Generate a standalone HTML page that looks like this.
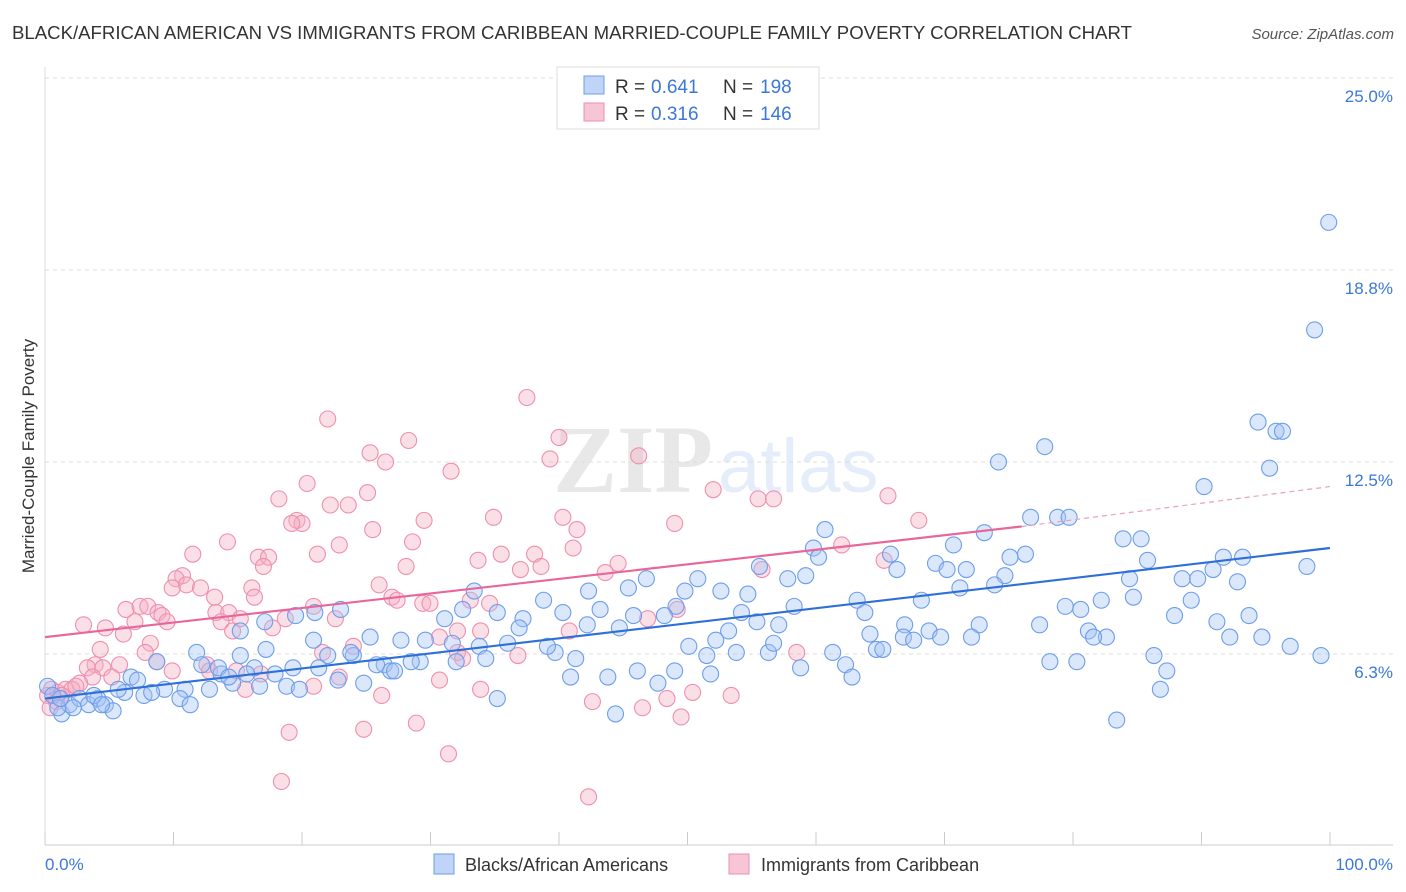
<!DOCTYPE html>
<html><head><meta charset="utf-8"><style>
body{margin:0;background:#fff;font-family:"Liberation Sans",sans-serif;}
svg{display:block}
</style></head><body>
<svg id="chart" width="1406" height="892" viewBox="0 0 1406 892" xmlns="http://www.w3.org/2000/svg">
<text x="12" y="39" font-size="18.6" fill="#333">BLACK/AFRICAN AMERICAN VS IMMIGRANTS FROM CARIBBEAN MARRIED-COUPLE FAMILY POVERTY CORRELATION CHART</text>
<text x="1394" y="39" font-size="15" fill="#555" font-style="italic" text-anchor="end">Source: ZipAtlas.com</text>
<g opacity="0.13">
<text x="553" y="492" font-family="Liberation Serif" font-size="96" fill="#555" font-weight="bold">ZIP</text>
<text x="718" y="492" font-size="76" fill="#3b78d8">atlas</text>
</g>
<g id="grid"></g>
<g id="axes"></g>
<g id="pts"></g>
<g id="trends"></g>
<text transform="translate(34,456) rotate(-90)" font-size="17" fill="#333" text-anchor="middle">Married-Couple Family Poverty</text>
<text x="45" y="870" font-size="17" fill="#3b78d8">0.0%</text>
<text x="1393" y="870" font-size="17" fill="#3b78d8" text-anchor="end">100.0%</text>
<g>
<rect x="557" y="67" width="262" height="62" fill="#fff" stroke="#ddd"/>
<rect x="584" y="76" width="20" height="18" fill="#a4c2f4" fill-opacity="0.7" stroke="#6d9eeb"/>
<rect x="584" y="103" width="20" height="18" fill="#f4aec4" fill-opacity="0.7" stroke="#ee8fb0"/>
<text x="615" y="93" font-size="19" fill="#333">R =</text>
<text x="651" y="93" font-size="19" fill="#3b78d8">0.641</text>
<text x="723" y="93" font-size="19" fill="#333">N =</text>
<text x="760" y="93" font-size="19" fill="#3b78d8">198</text>
<text x="615" y="120" font-size="19" fill="#333">R =</text>
<text x="651" y="120" font-size="19" fill="#3b78d8">0.316</text>
<text x="723" y="120" font-size="19" fill="#333">N =</text>
<text x="760" y="120" font-size="19" fill="#3b78d8">146</text>
</g>
<g>
<rect x="434" y="854" width="20" height="20" fill="#a4c2f4" fill-opacity="0.7" stroke="#6d9eeb"/>
<text x="465" y="871" font-size="18" fill="#333">Blacks/African Americans</text>
<rect x="729" y="854" width="20" height="20" fill="#f4aec4" fill-opacity="0.7" stroke="#ee8fb0"/>
<text x="761" y="871" font-size="18" fill="#333">Immigrants from Caribbean</text>
</g>
</svg>
<script>
const yTicks=[6.25,12.5,18.75,25.0];
const yTickLabels=["6.3%","12.5%","18.8%","25.0%"];
const xTicks=[0,10,20,30,40,50,60,70,80,90,100];
const blueTrend=[[0,4.8],[100,9.7]];
const pinkTrend=[[0,6.8],[76,10.4],[100,11.7]];
const blueData=[[99.9,20.3],[98.8,16.8],[94.4,13.8],[95.8,13.5],[96.3,13.5],[95.3,12.3],[77.8,13.0],[74.2,12.5],[90.2,11.7],[76.7,10.7],[78.8,10.7],[79.7,10.7],[60.7,10.3],[83.9,10.0],[85.3,10.0],[73.1,10.2],[70.7,9.8],[59.8,9.7],[85.8,9.3],[91.7,9.4],[93.2,9.4],[75.1,9.4],[76.3,9.5],[65.8,9.5],[60.2,9.4],[55.6,9.1],[69.3,9.2],[66.3,9.0],[70.2,9.0],[71.7,9.0],[98.2,9.1],[90.9,9.0],[84.4,8.7],[88.5,8.7],[89.7,8.7],[74.7,8.8],[73.9,8.5],[92.8,8.6],[57.8,8.7],[59.2,8.8],[50.8,8.7],[46.8,8.7],[45.4,8.4],[52.6,8.3],[54.7,8.2],[49.8,8.3],[42.3,8.3],[33.4,8.3],[71.2,8.4],[89.2,8.0],[84.7,8.1],[82.2,8.0],[63.2,8.0],[68.2,8.0],[79.4,7.8],[80.6,7.7],[58.3,7.8],[38.8,8.0],[43.2,7.7],[49.1,7.8],[32.5,7.7],[35.2,7.6],[40.3,7.6],[87.9,7.5],[93.7,7.5],[91.2,7.3],[63.8,7.6],[54.2,7.6],[45.8,7.5],[48.2,7.5],[31.1,7.4],[37.2,7.4],[36.9,7.1],[42.2,7.2],[21.0,7.6],[23.0,7.7],[77.4,7.2],[72.7,7.2],[66.9,7.2],[68.8,7.0],[57.1,7.2],[55.4,7.3],[53.2,7.0],[44.7,7.1],[81.2,7.0],[82.6,6.8],[81.6,6.8],[72.1,6.8],[69.7,6.8],[66.8,6.8],[64.2,6.9],[67.6,6.7],[94.7,6.8],[92.2,6.8],[96.9,6.5],[52.2,6.7],[50.1,6.5],[51.5,6.2],[53.8,6.3],[56.3,6.3],[56.7,6.6],[61.3,6.3],[64.7,6.4],[65.2,6.4],[78.2,6.0],[80.3,6.0],[86.3,6.2],[87.3,5.7],[86.8,5.1],[83.4,4.1],[99.3,6.2],[58.8,5.8],[62.3,5.9],[62.8,5.5],[51.8,5.6],[49.0,5.7],[46.1,5.7],[47.7,5.3],[43.8,5.5],[40.9,5.5],[39.7,6.3],[41.3,6.1],[39.1,6.5],[36.0,6.6],[33.8,6.5],[31.7,6.6],[29.6,6.7],[27.7,6.7],[25.3,6.8],[20.9,6.7],[34.3,6.1],[32.0,6.0],[29.2,6.0],[28.5,6.0],[26.4,5.9],[26.9,5.7],[25.8,5.9],[27.2,5.7],[24.0,6.2],[22.0,6.2],[23.8,6.3],[21.3,5.8],[19.3,5.8],[17.2,6.4],[16.3,5.8],[15.2,6.2],[11.8,6.3],[13.7,5.6],[15.7,5.6],[17.9,5.6],[22.8,5.4],[24.8,5.3],[18.8,5.2],[19.8,5.1],[16.7,5.2],[14.6,5.3],[12.8,5.1],[10.9,5.1],[9.3,5.1],[7.7,4.9],[6.2,5.0],[5.7,5.1],[8.3,5.0],[10.5,4.8],[11.3,4.6],[6.7,5.5],[7.2,5.4],[12.2,5.9],[8.7,6.0],[13.5,5.8],[14.3,5.5],[19.5,7.5],[15.2,7.0],[17.1,7.3],[35.2,4.8],[44.4,4.3],[0.2,5.2],[0.6,4.9],[1.3,4.3],[1.9,4.6],[2.7,4.8],[3.4,4.6],[4.1,4.8],[4.7,4.6],[5.3,4.4],[2.2,4.5],[1.0,4.5],[3.8,4.9],[1.2,4.8],[4.4,4.6]];
const pinkData=[[37.5,14.6],[40.0,13.3],[46.2,12.7],[39.3,12.6],[22.0,13.9],[28.3,13.2],[25.3,12.8],[26.5,12.5],[31.6,12.2],[52.0,11.6],[55.5,11.3],[56.7,11.3],[65.6,11.4],[18.2,11.3],[20.4,11.8],[25.1,11.5],[22.2,11.1],[23.6,11.1],[19.6,10.6],[20.0,10.5],[19.2,10.5],[29.5,10.6],[34.9,10.7],[40.3,10.7],[41.4,10.3],[49.0,10.5],[68.0,10.6],[25.5,10.3],[14.2,9.9],[22.9,9.8],[28.6,9.9],[62.0,9.8],[11.5,9.5],[21.2,9.5],[16.6,9.4],[17.4,9.4],[33.7,9.3],[35.5,9.5],[38.1,9.5],[41.1,9.7],[17.0,9.1],[28.1,9.1],[37.0,9.0],[38.6,9.1],[44.6,9.2],[43.6,8.9],[55.8,9.0],[65.3,9.3],[10.7,8.8],[10.2,8.7],[11.0,8.5],[12.1,8.4],[9.9,8.4],[16.1,8.4],[26.0,8.5],[13.2,8.1],[16.3,8.1],[27.0,8.1],[27.4,8.0],[29.4,7.9],[29.96,7.9],[33.1,8.0],[34.6,7.9],[6.3,7.7],[7.4,7.8],[8.0,7.8],[8.8,7.6],[9.1,7.5],[13.3,7.6],[14.3,7.6],[20.9,7.8],[22.6,7.4],[7.0,7.3],[9.5,7.3],[13.7,7.3],[15.2,7.4],[18.7,7.4],[17.7,7.1],[3.0,7.2],[4.7,7.1],[6.1,6.9],[14.6,7.0],[32.1,7.0],[33.9,7.0],[30.7,6.8],[40.8,7.0],[49.2,7.7],[46.9,7.4],[8.2,6.6],[4.3,6.4],[7.8,6.3],[24.0,6.5],[21.6,6.3],[36.8,6.2],[32.1,6.3],[32.5,6.1],[58.5,6.3],[8.7,6.0],[3.9,5.9],[3.3,5.8],[4.5,5.8],[5.8,5.9],[9.9,5.7],[12.6,5.9],[12.8,5.7],[14.9,5.7],[16.8,5.6],[3.7,5.5],[5.2,5.5],[2.7,5.3],[22.9,5.5],[30.7,5.4],[20.9,5.2],[15.6,5.1],[33.9,5.1],[50.4,5.0],[53.4,4.9],[48.4,4.8],[26.2,4.9],[46.5,4.5],[42.6,4.7],[49.5,4.2],[28.9,4.0],[19.0,3.7],[24.8,3.8],[31.4,3.0],[18.4,2.1],[42.3,1.6],[0.5,5.1],[0.2,4.9],[1.0,5.0],[1.6,5.1],[2.1,5.1],[0.4,4.5],[1.3,4.9],[2.4,5.2],[0.9,4.7]];

const NS="http://www.w3.org/2000/svg";
const X0=45,X1=1330,Y0=846,PPU=30.72;
function xs(v){return X0+(X1-X0)*v/100;}
function ys(v){return Y0-v*PPU;}
function mk(tag,attrs,parent){const e=document.createElementNS(NS,tag);for(const k in attrs)e.setAttribute(k,attrs[k]);parent.appendChild(e);return e;}
const grid=document.getElementById('grid'),axes=document.getElementById('axes'),pts=document.getElementById('pts'),tr=document.getElementById('trends');
yTicks.forEach((t,i)=>{
  const y=ys(t);
  const l=mk('line',{x1:X0,x2:1393,y1:y,y2:y,stroke:'#ddd','stroke-dasharray':'4,4'},grid);
  
  
  const tx=mk('text',{x:1393,y:y+24,'font-size':17,fill:'#3b78d8','text-anchor':'end'},axes);
  tx.textContent=yTickLabels[i];
  
  
});
const ax=mk('line',{x1:X0,x2:1393,y1:845,y2:845,stroke:'#ccc'},axes);


const ay=mk('line',{x1:X0,x2:X0,y1:67,y2:845,stroke:'#ddd'},axes);


xTicks.forEach(t=>{
  const k=mk('line',{x1:xs(t),x2:xs(t),y1:832,y2:845,stroke:'#ccc'},axes);
  
  
});
function drawPts(data,fill,stroke,name){
  data.forEach(d=>{
    const c=mk('circle',{cx:xs(d[0]),cy:ys(d[1]),r:8,fill:fill,'fill-opacity':0.4,stroke:stroke,'stroke-width':1.1},pts);
    
    
  });
}
drawPts(pinkData,'#f4aec4','#ee8fb0','caribbean-point');
drawPts(blueData,'#a4c2f4','#6d9eeb','blacks-point');
const bl=mk('line',{x1:xs(blueTrend[0][0]),y1:ys(blueTrend[0][1]),x2:xs(blueTrend[1][0]),y2:ys(blueTrend[1][1]),stroke:'#2f6fd8','stroke-width':2.2},tr);


const pl=mk('line',{x1:xs(pinkTrend[0][0]),y1:ys(pinkTrend[0][1]),x2:xs(pinkTrend[1][0]),y2:ys(pinkTrend[1][1]),stroke:'#e8679a','stroke-width':2.2},tr);


const pd=mk('line',{x1:xs(pinkTrend[1][0]),y1:ys(pinkTrend[1][1]),x2:xs(pinkTrend[2][0]),y2:ys(pinkTrend[2][1]),stroke:'#e8a0bb','stroke-width':1.2,'stroke-dasharray':'5,4'},tr);


</script>
</body></html>
